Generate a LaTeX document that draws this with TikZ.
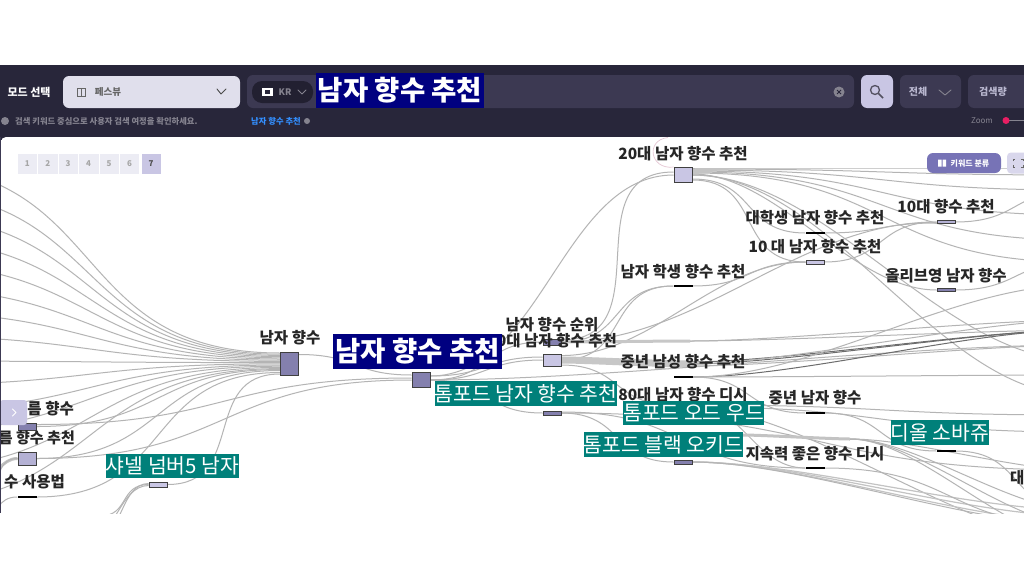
\documentclass[tikz,border=0pt]{standalone}
\usepackage{fontspec}
\usetikzlibrary{backgrounds}
\setmainfont{Noto Sans CJK KR}
\definecolor{barbg}{HTML}{28263A}
\definecolor{fieldbg}{HTML}{3C3952}
\definecolor{lilac}{HTML}{C9C6E4}
\definecolor{pale}{HTML}{E0DFEC}
\definecolor{nodep}{HTML}{8480AE}
\definecolor{tealb}{HTML}{00807A}
\definecolor{navyb}{HTML}{000080}
\definecolor{edgeg}{HTML}{B4B4B4}
\definecolor{muted}{HTML}{85838F}
\definecolor{pinkd}{HTML}{E91E63}
\newcommand\fs[1]{\fontsize{#1}{#1}\selectfont}
\newcommand\lk[3][]{\draw[edge,#1] (#2) to (#3);}
\tikzset{
 x=1pt,y=-1pt,
 edge/.style={draw=edgeg,line width=1pt,out=0,in=180,looseness=1.3},
 thickedge/.style={edge,line width=3pt,draw=edgeg!80},
 darkedge/.style={edge,draw=edgeg!60!black},
 sq/.style={draw=black!75,line width=.9pt,inner sep=0pt,minimum width=18pt,minimum height=#1,rectangle},
 sqa/.style={sq=#1,fill=lilac},
 sqb/.style={sq=#1,fill=nodep},
 dashn/.style={fill=black,draw=none,inner sep=0pt,minimum width=19pt,minimum height=2pt,rectangle},
 lab/.style={font=\fs{15.5}\bfseries,text=black!85,inner sep=0pt,yshift=-1pt},
 tealbox/.style={fill=tealb,text=white,font=\fs{20.4},inner sep=0pt,minimum height=25pt,anchor=center},
 navybox/.style={fill=navyb,text=white,font=\fs{27.5}\bfseries,inner sep=0pt,anchor=center},
 hdr/.style={inner sep=0pt,text=muted,font=\fs{8.3}\bfseries},
 chev/.style={draw=#1,line width=.9pt,line cap=round,line join=round},
 pagecell/.style={draw=white,line width=.5pt,fill=pale!60!white,minimum width=20.4pt,minimum height=21pt,inner sep=0pt,text=black!35,font=\fs{8}\bfseries},
}
\begin{document}
\begin{tikzpicture}
\useasboundingbox (0,0) rectangle (1024,576);
\begin{pgfonlayer}{background}
\fill[white] (0,0) rectangle (1024,576);
\fill[barbg] (0,65) rectangle (1024,140);
\fill[white,rounded corners=5pt] (1,137) rectangle (1030,513);
\fill[fieldbg] (0,137) rectangle (1,513);
\end{pgfonlayer}
% header
\fill[fieldbg,rounded corners=6pt] (247,75) rectangle (854,108);
\fill[pale,rounded corners=6pt] (63,76) rectangle (240,108);
\fill[barbg!85!black,rounded corners=10pt] (252,81) rectangle (313,103);
\fill[white] (262,88) rectangle (273,96);
\fill[barbg] (265,90) rectangle (270,94);
\fill[lilac,rounded corners=6pt] (861,75) rectangle (893,108);
\fill[fieldbg,rounded corners=6pt] (900,75) rectangle (961,108);
\fill[fieldbg,rounded corners=6pt] (968,75) rectangle (1030,108);
\node[inner sep=0pt,text=white,font=\fs{11}\bfseries] (mode) at (29,92) {모드 선택};
\node[inner sep=0pt,text=black!60,font=\fs{9.5}\bfseries] (fest) at (108,92) {페스뷰};
\draw[black!60,line width=.8pt] (77,88) rectangle (85,96) (81,88) -- (81,96);
\draw[chev=black!70] (217,89) -- (221,94) -- (226,89);
\node[inner sep=0pt,text=muted,font=\fs{9}\bfseries] (kr) at (285,92) {KR};
\draw[chev=muted] (298,90) -- (302,94) -- (306,90);
\node[navybox,minimum width=168pt,minimum height=35pt] (search) at (400,90.5) {남자 향수 추천};
\fill[muted] (839,92) circle (5.5pt);
\draw[barbg,line width=.8pt] (837,90) -- (841,94) (841,90) -- (837,94);
\draw[barbg!80,line width=1.3pt] (875,90) circle (4.5pt);
\draw[barbg!80,line width=1.5pt] (878.5,93.5) -- (883,98);
\node[inner sep=0pt,text=lilac!80!gray,font=\fs{10}\bfseries] (all) at (918,92) {전체};
\draw[chev=muted] (939,90) -- (945,95) -- (951,90);
\node[inner sep=0pt,text=lilac!80!gray,font=\fs{10}\bfseries] (vol) at (993,92) {검색량};
\fill[muted] (5,121) circle (4pt);
\node[hdr,anchor=west] (hint) at (15,121) {검색 키워드 중심으로 사용자 검색 여정을 확인하세요.};
\node[hdr,anchor=west,text=blue!55!cyan!80!white] (crumb) at (251,121) {남자 향수 추천};
\fill[muted] (307,121) circle (3pt);
\node[inner sep=0pt,text=muted,font=\fs{8}] (zoomt) at (982,121) {Zoom};
\draw[muted,line width=.8pt] (1006,120.5) -- (1024,120.5);
\fill[pinkd] (1006,120.5) circle (3.5pt);
\begin{scope}
\clip (1,137) rectangle (1024,513);
% --- nodes
\node[sqa=15pt] (n20) at (683,175) {};
\node[dashn] (nuni) at (815,233) {};
\node[sqa=3.5pt,fill=lilac!70!nodep] (n10h) at (946,222) {};
\node[sqa=4pt] (n10m) at (815,262) {};
\node[sqb=3.5pt] (noli) at (946,290) {};
\node[dashn] (nstu) at (683,286) {};
\node[sqb=6pt] (nrank) at (552,342) {};
\node[sqa=12pt] (n30) at (552,360) {};
\node[dashn] (nmid) at (683,377) {};
\node[dashn] (n80) at (683,405) {};
\node[sqb=4pt] (ntom) at (552,413) {};
\node[sqb=4pt] (nblack) at (683,462) {};
\node[dashn] (nlast) at (815,468) {};
\node[dashn] (nmale) at (815,413) {};
\node[dashn] (ndior) at (946,451) {};
\node[sqb=23pt] (nmen) at (289.5,363.5) {};
\node[sqb=15pt] (nrec) at (421,380) {};
\node[sqa=5pt] (nch) at (158,484.5) {};
\node[sqb=7pt] (nsum) at (27,426.5) {};
\node[sq=13pt,fill=lilac!70!nodep] (nsumr) at (27,458.5) {};
\node[dashn] (nuse) at (27,497) {};
% free ends
\foreach \i/\y in {1/165,2/191,3/215,4/239,5/263,6/288,7/312,8/336,9/361,10/385,11/411,12/433,13/470,14/505}
  \coordinate (l\i) at (-104,\y);
\coordinate (b1) at (100,516);
\coordinate (b3) at (105,518);
\coordinate (r1) at (1077,168);
\coordinate (r2) at (1077,190);
\coordinate (r3) at (1077,215);
\coordinate (r4) at (1077,240);
\coordinate (r5) at (1077,262);
\coordinate (r6) at (1077,285);
\coordinate (r7) at (1077,330);
\coordinate (r8) at (1077,345);
\coordinate (r9) at (1077,360);
\coordinate (r10) at (1077,375);
\coordinate (r11) at (1077,415);
\coordinate (r12) at (1077,432);
\coordinate (r13) at (1077,470);
\coordinate (r14) at (1077,510);
\coordinate (r15) at (1077,525);
\coordinate (r16) at (1077,540);
\coordinate (r17) at (1077,175);
\coordinate (r18) at (1077,320);
\coordinate (r19) at (1077,395);
\coordinate (band) at (690,364);
\coordinate (bandt) at (690,341);
\begin{pgfonlayer}{background}
\clip (1,137) rectangle (1024,513);
% left fan
\foreach \i in {1,...,14} {
  \pgfmathsetmacro\sh{10.5-(\i-1)*1.2}
  \draw[edge] (l\i) to ([yshift=\sh pt]nmen.west);}
\lk{nsum.east}{[yshift=-6pt]nmen.west}
\lk{nsumr.east}{[yshift=-7pt]nmen.west}
\lk{nuse.east}{[yshift=-9pt]nmen.west}
\lk{nch.east}{[yshift=-10.5pt]nmen.west}
\lk{[yshift=2pt]nsum.east}{[yshift=2pt]nrec.west}
\lk{nsumr.east}{nrec.west}
\draw[thickedge,looseness=1] (-20,478) to (nsumr.west);
\draw[edge] (-20,490) to (nsumr.west);
\draw[edge] (-20,515) to (nuse.west);
\lk{b1}{nch.west}
\draw[edge,out=-60,in=180] (b1) to ([yshift=-1pt]nch.west);
\draw[edge,out=-55,in=180] (b3) to ([yshift=1pt]nch.west);
% centre
\lk{[yshift=9pt]nmen.east}{[yshift=5pt]nrec.west}
\lk{[yshift=4pt]nrec.east}{[yshift=3pt]n30.west}
\lk{nrec.east}{n30.west}
\lk{nrec.east}{ntom.west}
\draw[edge,looseness=.9] ([yshift=4pt]nrec.east) to (n20.west);
\lk{[yshift=2pt]nrank.east}{[yshift=3pt]n20.west}
\lk{nrec.east}{nrank.west}
% 20대 fan
\lk{[yshift=7pt]n20.east}{r1}
\lk{[yshift=6pt]n20.east}{r17}
\lk{[yshift=5pt]n20.east}{r2}
\lk{[yshift=4pt]n20.east}{r3}
\lk{[yshift=3pt]n20.east}{r4}
\lk{[yshift=2pt]n20.east}{r5}
\draw[edge,looseness=.8] ([yshift=1pt]n20.east) to (noli.west);
\draw[edge,looseness=.8] (n20.east) to (r19);
\lk{[yshift=-4pt]n20.east}{nuni.west}
\lk{[yshift=-5pt]n20.east}{n10m.west}
\draw[edge,looseness=.8] (n20.east) to (r9);
\lk{n10m.east}{n10h.west}
\lk{nuni.east}{[yshift=-1pt]n10h.west}
\lk{n10h.east}{r2}
\lk{noli.east}{r5}
\lk{nstu.east}{n10m.west}
\lk{n30.east}{nstu.west}
\draw[edge,looseness=.9] (nrank.east) to (n10h.west);
\draw[edge,looseness=.9] ([yshift=-2pt]n30.north east) to (n10m.west);
\lk{nrank.east}{nstu.west}
% bands to the right
\draw[edge,line width=7pt,draw=edgeg!75,looseness=.5] (n30.east) to (band);
\draw[edge,line width=3pt,draw=edgeg!75,looseness=.5] (nrank.east) to (bandt);
\draw[edge,looseness=.6] (bandt) to (r7);
\draw[edge,looseness=.6] (bandt) to (r18);
\draw[darkedge,looseness=.6] ([yshift=2pt]band) to (r7);
\draw[darkedge,looseness=.6] (band) to (r7);
\draw[edge,looseness=.6] (band) to (r18);
\draw[edge,looseness=.6] ([yshift=-2pt]band) to (r8);
\draw[edge,looseness=.7] (nrec.east) to (r8);
\draw[darkedge,looseness=.7] (nmid.east) to (r7);
\draw[edge,looseness=.8] (nmid.east) to (r6);
\draw[edge,looseness=.7] (nmid.east) to (r10);
\lk{[yshift=-5pt]n30.east}{n80.west}
\lk{n80.east}{r11}
\lk{[yshift=-2pt]n80.east}{r12}
\lk{nmid.east}{nmale.west}
\lk{nmale.east}{ndior.west}
\lk{ndior.east}{r14}
\draw[edge,looseness=1] (n80.east) to (nlast.west);
\draw[edge,looseness=.7] ([yshift=-3pt]n80.east) to (r16);
\lk{ntom.east}{nblack.west}
\lk{[yshift=1pt]ntom.east}{nlast.west}
\lk{ntom.east}{r13}
\foreach \y in {0,1,2} {\draw[thickedge,line width=1.2pt,looseness=.7] (nblack.east) to ([yshift=-\y*6 pt]r14);}
\draw[edge,looseness=.7] (nblack.east) to (r15);
\lk{nlast.east}{r15}
\draw[thickedge,looseness=.4] (743,435) to (850,439);
\foreach \y in {13,14,15,16} {\draw[edge,looseness=.7] (850,439) to (r\y);}
\draw[draw=red!20!lilac!60!white,line width=.7pt] (n20.north west) .. controls (650,170) and (645,140) .. (668,137.5);
\end{pgfonlayer}
% --- labels
\node[lab] (l20) at (683,153) {20대 남자 향수 추천};
\node[lab] (luni) at (815,217) {대학생 남자 향수 추천};
\node[lab] (l10h) at (946,206) {10대 향수 추천};
\node[lab] (l10m) at (815,246) {10 대 남자 향수 추천};
\node[lab] (loli) at (946,275) {올리브영 남자 향수};
\node[lab] (lstu) at (683,271) {남자 학생 향수 추천};
\node[lab] (lrank) at (552,324) {남자 향수 순위};
\node[lab,anchor=east] (l30) at (617,340) {0대 남자 향수 추천};
\node[lab] (lmid) at (683,361) {중년 남성 향수 추천};
\node[lab] (l80) at (683,394) {80대 남자 향수 디시};
\node[lab] (llast) at (815,453) {지속력 좋은 향수 디시};
\node[lab] (lmale) at (815,397) {중년 남자 향수};
\node[lab] (lmen) at (290,337) {남자 향수};
\node[lab,anchor=east] (lsum) at (74,408) {름 향수};
\node[lab,anchor=east,font=\fs{15}\bfseries] (lsumr) at (75,437) {름 향수 추천};
\node[lab,anchor=east] (luse) at (65,481) {수 사용법};
\node[lab,anchor=west] (lta) at (1010,477) {대};
\node[navybox,minimum width=169pt,minimum height=35pt] (brec) at (417.5,351.5) {남자 향수 추천};
\node[tealbox,minimum width=182pt] (btom) at (526,393.5) {톰포드 남자 향수 추천};
\node[tealbox,minimum width=139pt,minimum height=24pt] (bwood) at (693.5,413) {톰포드 오드 우드};
\node[tealbox,minimum width=159pt] (bblack) at (663.5,444.5) {톰포드 블랙 오키드};
\node[tealbox,minimum width=98pt] (bdior) at (940,432.5) {디올 소바쥬};
\node[tealbox,minimum width=133pt,minimum height=24pt] (bch) at (172.5,466) {샤넬 넘버5 남자};
% controls
\foreach \i in {1,...,6} {
 \node[pagecell] (t\i) at (17+\i*20.45-10.2,163.5) {\i};
}
\node[pagecell,fill=lilac,text=black!70] (t7) at (150.95,163.5) {7};
\node[fill=nodep!90!blue,rounded corners=6pt,minimum width=74pt,minimum height=20pt,inner sep=0pt,text=white,font=\fs{8}\bfseries] (kw) at (964,163) {\hspace{12pt}키워드 분류};
\fill[white] (938,159.5) rectangle (941.5,166.5) (942.5,159.5) rectangle (946,166.5);
\node[fill=lilac!70!white,rounded corners=4pt,minimum width=22pt,minimum height=21pt,inner sep=0pt] (fs) at (1018,163) {};
\draw[black!60,line width=.8pt] (1013,161) -- (1013,159) -- (1015,159) (1021,159) -- (1023,159) -- (1023,161) (1013,165) -- (1013,167) -- (1015,167) (1021,167) -- (1023,167) -- (1023,165);
\node[fill=lilac,rounded corners=3pt,minimum width=27pt,minimum height=25pt,inner sep=0pt] (expand) at (13.5,412.5) {};
\draw[chev=white] (12.5,409) -- (16,412.5) -- (12.5,416);
\end{scope}
\end{tikzpicture}
\end{document}
